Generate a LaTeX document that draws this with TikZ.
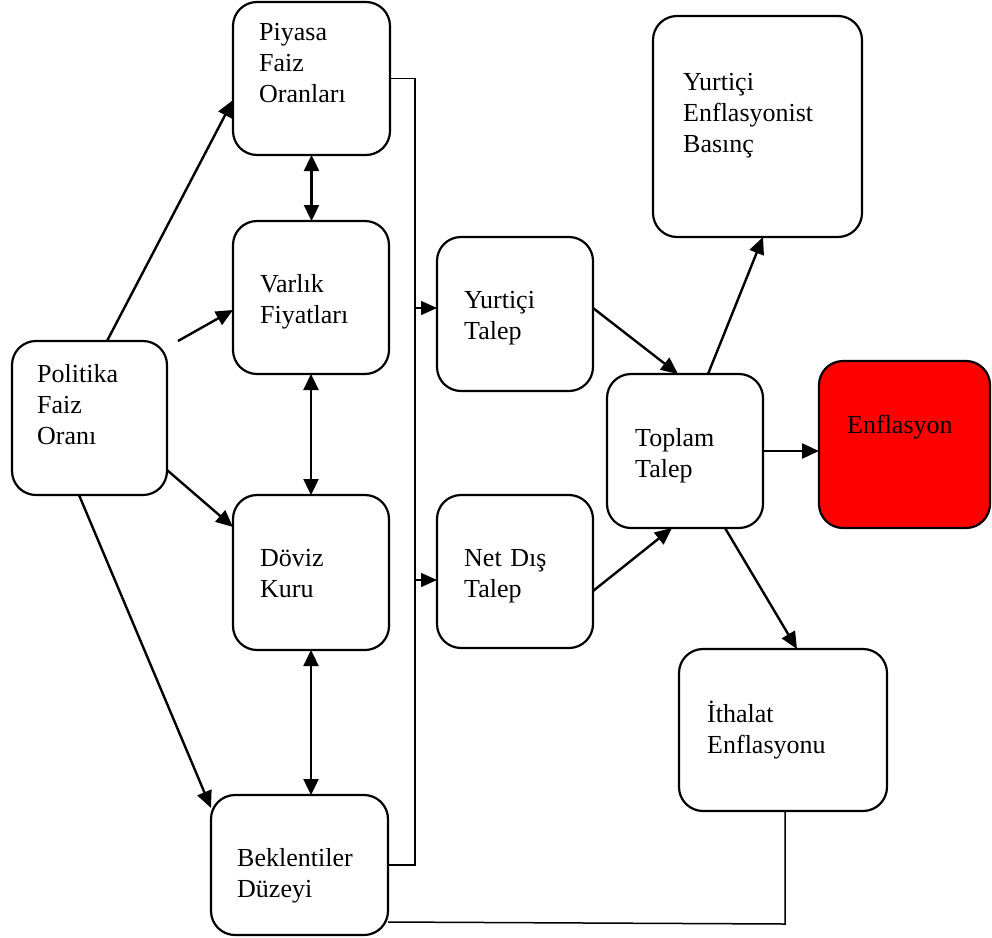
\documentclass[tikz,border=0pt]{standalone}
\usepackage{fontspec}
\setmainfont{Liberation Serif}
\usetikzlibrary{arrows.meta,calc}
\begin{document}
\begin{tikzpicture}[x=1pt,y=-1pt,
  box/.style={draw,line width=2.2pt,rounded corners=24pt,anchor=north west,
              inner sep=0pt,outer sep=0pt},
  lbl/.style={anchor=base west,inner sep=0pt,text width=200pt,align=left,
              font=\fontsize{26}{31}\selectfont},
  tip/.style={Triangle[length=17pt,width=15pt]},
  arr/.style={line width=2.4pt,-{Triangle[length=17pt,width=15pt]}},
  dbl/.style={line width=2.4pt,{Triangle[length=16pt,width=15pt]}-{Triangle[length=16pt,width=15pt]}},
  bus/.style={line width=1.5pt},
  tap/.style={line width=1.5pt,-{Triangle[length=16pt,width=14pt]}}]
\useasboundingbox (0,0) rectangle (992,937);

% boxes
\node[box,minimum width=155pt,minimum height=154pt] (politika) at (12,341) {};
\node[box,minimum width=157pt,minimum height=153pt] (piyasa)   at (233,2) {};
\node[box,minimum width=156pt,minimum height=153pt] (varlik)   at (233,221) {};
\node[box,minimum width=156pt,minimum height=155pt] (doviz)    at (233,495) {};
\node[box,minimum width=177pt,minimum height=140pt] (beklenti) at (211,795) {};
\node[box,minimum width=156pt,minimum height=154pt] (yurtici)  at (437,237) {};
\node[box,minimum width=156pt,minimum height=153pt] (netdis)   at (437,495) {};
\node[box,minimum width=156pt,minimum height=154pt] (toplam)   at (607,374) {};
\node[box,minimum width=209pt,minimum height=221pt] (yenf)     at (653,16) {};
\node[box,fill=red,minimum width=171pt,minimum height=167pt] (enf) at (819,361) {};
\node[box,minimum width=208pt,minimum height=162pt] (ithalat)  at (679,649) {};

% labels
\node[lbl] (politikaT) at (37,382)  {Politika\\Faiz\\Oranı};
\node[lbl] (piyasaT)   at (259,40)  {Piyasa\\Faiz\\Oranları};
\node[lbl] (varlikT)   at (260,292) {Varlık\\Fiyatları};
\node[lbl] (dovizT)    at (260,566) {Döviz\\Kuru};
\node[lbl] (beklentiT) at (237,866) {Beklentiler\\Düzeyi};
\node[lbl] (yurticiT)  at (464,308) {Yurtiçi\\Talep};
\node[lbl] (netdisT)   at (464,566) {Net Dış\\Talep};
\node[lbl] (toplamT)   at (635,446) {Toplam\\Talep};
\node[lbl] (yenfT)     at (683,90)  {Yurtiçi\\Enflasyonist\\Basınç};
\node[lbl] (enfT)      at (847,433) {Enflasyon};
\node[lbl] (ithalatT)  at (707,722) {İthalat\\Enflasyonu};

% policy rate channels
\draw[arr] ($(politika.north west)+(95,0)$) -- ($(piyasa.north west)+(0,98)$);
\draw[arr] ($(politika.north east)+(11,0)$) -- ($(varlik.north west)+(0,89)$);
\draw[arr] ($(politika.north east)+(0,129)$) -- ($(doviz.north west)+(0,32)$);
\draw[arr] ($(politika.south west)+(67,0)$) -- ($(beklenti.north west)+(0,13)$);

% two-way links between the channels
\draw[dbl] (piyasa.south) -- (piyasa.south |- varlik.north);
\draw[dbl] (varlik.south) -- (varlik.south |- doviz.north);
\draw[dbl] (doviz.south) -- (doviz.south |- beklenti.north);

% collecting bus
\coordinate (busT) at ($(piyasa.east)+(25,0)$);
\coordinate (busB) at (busT |- beklenti.east);
\draw[bus] (piyasa.east) -- (busT) -- (busB) -- (beklenti.east);
\coordinate (inY) at ([yshift=6pt]yurtici.west);
\coordinate (inN) at ([yshift=-8.5pt]netdis.west);
\draw[tap] (busT |- inY) -- (inY);
\draw[tap] (busT |- inN) -- (inN);

% demand to total demand
\draw[arr] ($(yurtici.north east)+(0,71)$) -- ($(toplam.north west)+(71,0)$);
\draw[arr] ($(netdis.north east)+(0,96)$) -- ($(toplam.south west)+(65,0)$);

% total demand outcomes
\draw[arr] ($(toplam.north west)+(101,0)$) -- ($(yenf.south west)+(110,0)$);
\draw[arr] (toplam.east) -- (toplam.east -| enf.west);
\draw[arr] ($(toplam.south west)+(118,0)$) -- ($(ithalat.north west)+(118,0)$);

% import inflation feedback
\coordinate (ithB) at ($(ithalat.south west)+(106,113)$);
\draw[bus] ($(ithalat.south west)+(106,0)$) -- (ithB) -- ($(beklenti.south east)+(0,-13)$);
\end{tikzpicture}
\end{document}
